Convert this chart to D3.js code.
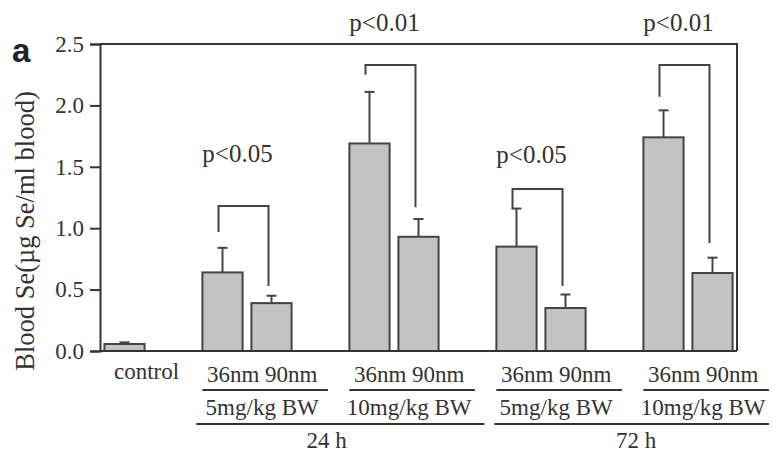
<!DOCTYPE html>
<html>
<head>
<meta charset="utf-8">
<script src="https://cdn.jsdelivr.net/npm/d3@7"></script>
<style>
  body { margin: 0; background: #fff; }
  text { font-family: "Liberation Serif", "Times New Roman", serif; fill: #333; }
</style>
</head>
<body>
<div id="chart"></div>
<script>
// slots along the x axis (gaps included so the pairs are spaced like the figure)
const slots = ["control", "gap1", "24h-5-36", "24h-5-90", "gap2", "24h-10-36", "24h-10-90",
    "gap3", "72h-5-36", "72h-5-90", "gap4", "72h-10-36", "72h-10-90"];

const barKeys = ["control", "24h-5-36", "24h-5-90", "24h-10-36", "24h-10-90",
    "72h-5-36", "72h-5-90", "72h-10-36", "72h-10-90"];
const means = [0.057, 0.64, 0.39, 1.69, 0.93, 0.85, 0.35, 1.74, 0.635];
const errTops = [0.07, 0.84, 0.45, 2.11, 1.075, 1.16, 0.46, 1.96, 0.76];

// significance brackets: [36nm bar, 90nm bar]
const bracketPairs = [["24h-5-36", "24h-5-90"], ["24h-10-36", "24h-10-90"],
    ["72h-5-36", "72h-5-90"], ["72h-10-36", "72h-10-90"]];
const bracketTop = [1.18, 2.33, 1.32, 2.33];
const bracketLeftEnd = [0.97, 2.25, 1.16, 2.07];
const bracketRightEnd = [0.53, 1.17, 0.53, 0.88];
const pLabels = ["p<0.05", "p<0.01", "p<0.05", "p<0.01"];
const pLabelY = [1.54, 2.61, 1.53, 2.61];

const doseGroups = ["24h-5-36", "24h-10-36", "72h-5-36", "72h-10-36"];
const doseLabels = ["5mg/kg BW", "10mg/kg BW", "5mg/kg BW", "10mg/kg BW"];
const timeLabels = ["24 h", "72 h"];
const yTicks = [0, 0.5, 1.0, 1.5, 2.0, 2.5];

const W = 772, H = 455;
const margin = { top: 44, right: 35, bottom: 104, left: 100 };
const width = W - margin.left - margin.right,
    height = H - margin.top - margin.bottom;
const ink = "#333";

let svg = d3.select("#chart")
    .append("svg")
    .attr("width", W)
    .attr("height", H);

let g = svg.append("g")
    .attr("transform", "translate(" + margin.left + "," + margin.top + ")");

const x = d3.scaleBand()
    .domain(slots)
    .range([0, width])
    .paddingInner(0.18)
    .paddingOuter(0.09);

const y = d3.scaleLinear()
    .domain([0, 2.5])
    .range([height, 0]);

const cx = k => x(k) + x.bandwidth() / 2;

// frame (top + right)
g.append("path")
    .attr("d", `M0,0H${width}V${height}`)
    .attr("fill", "none")
    .attr("stroke", ink)
    .attr("stroke-width", 2);

// y axis
const yAxis = g.append("g")
    .call(d3.axisLeft(y).tickValues(yTicks).tickFormat(d3.format(".1f")).tickSize(10).tickPadding(6));
yAxis.select(".domain").attr("stroke", ink).attr("stroke-width", 2);
yAxis.selectAll(".tick line").attr("stroke", ink).attr("stroke-width", 2);
yAxis.selectAll(".tick text")
    .attr("font-size", 23)
    .attr("font-family", "Liberation Serif, Times New Roman, serif")
    .attr("fill", "#444");

// bars
g.selectAll(".bar")
    .data(barKeys)
    .join("rect")
    .attr("class", "bar")
    .attr("x", d => x(d))
    .attr("width", x.bandwidth())
    .attr("y", (d, i) => y(means[i]))
    .attr("height", (d, i) => height - y(means[i]))
    .attr("fill", "#c3c3c3")
    .attr("stroke", "#444")
    .attr("stroke-width", 2);

// error bars
barKeys.forEach((k, i) => {
    g.append("line")
        .attr("x1", cx(k)).attr("x2", cx(k))
        .attr("y1", y(means[i])).attr("y2", y(errTops[i]))
        .attr("stroke", "#444").attr("stroke-width", 2);
    g.append("line")
        .attr("x1", cx(k) - 5).attr("x2", cx(k) + 5)
        .attr("y1", y(errTops[i])).attr("y2", y(errTops[i]))
        .attr("stroke", "#444").attr("stroke-width", 2);
});

// bottom baseline
g.append("line")
    .attr("x1", 0).attr("x2", width)
    .attr("y1", height).attr("y2", height)
    .attr("stroke", ink).attr("stroke-width", 2);

// brackets + p values
bracketPairs.forEach((p, i) => {
    const xl = cx(p[0]) - 4, xr = cx(p[1]) - 3;
    g.append("path")
        .attr("d", `M${xl},${y(bracketLeftEnd[i])}V${y(bracketTop[i])}H${xr}V${y(bracketRightEnd[i])}`)
        .attr("fill", "none")
        .attr("stroke", "#444")
        .attr("stroke-width", 2);
    g.append("text")
        .attr("x", (xl + xr) / 2 - 6)
        .attr("y", y(pLabelY[i]))
        .attr("text-anchor", "middle")
        .attr("font-size", 25)
        .text(pLabels[i]);
});

// x labels
g.append("text")
    .attr("x", cx("control") + 22)
    .attr("y", height + 28)
    .attr("text-anchor", "middle")
    .attr("font-size", 23)
    .text("control");

const lineLen = x.step() * 2.5 + 3;
doseGroups.forEach((k, i) => {
    const x0 = x(k), mid = x0 + lineLen / 2;
    g.append("text")
        .attr("x", mid - 3)
        .attr("y", height + 31)
        .attr("text-anchor", "middle")
        .attr("font-size", 23)
        .text("36nm 90nm");
    g.append("line")
        .attr("x1", x0).attr("x2", x0 + lineLen)
        .attr("y1", height + 39).attr("y2", height + 39)
        .attr("stroke", ink).attr("stroke-width", 2);
    g.append("text")
        .attr("x", mid - 3)
        .attr("y", height + 64)
        .attr("text-anchor", "middle")
        .attr("font-size", 23)
        .text(doseLabels[i]);
});

// time spans
const spans = [[x("24h-5-36") - 6, x("72h-5-36") - 12], [x("72h-5-36") - 2, x("72h-10-36") + lineLen]];
spans.forEach((s, i) => {
    g.append("line")
        .attr("x1", s[0]).attr("x2", s[1])
        .attr("y1", height + 73).attr("y2", height + 73)
        .attr("stroke", ink).attr("stroke-width", 2);
});
g.append("text")
    .attr("x", x("gap2") + x.bandwidth() / 2 + 6)
    .attr("y", height + 97)
    .attr("text-anchor", "middle")
    .attr("font-size", 23)
    .text(timeLabels[0]);
g.append("text")
    .attr("x", (cx("gap4") + cx("72h-10-36")) / 2 - 3)
    .attr("y", height + 97)
    .attr("text-anchor", "middle")
    .attr("font-size", 23)
    .text(timeLabels[1]);

// y label
svg.append("text")
    .attr("transform", "translate(34,231) rotate(-90)")
    .attr("text-anchor", "middle")
    .attr("font-size", 26.5)
    .text("Blood Se(\u00b5g Se/ml blood)");

// panel letter
svg.append("text")
    .attr("x", 12)
    .attr("y", 62)
    .attr("font-weight", "bold")
    .attr("font-size", 33)
    .style("fill", "#222")
    .style("font-family", "Liberation Sans, Arial, sans-serif")
    .text("a");
</script>
</body>
</html>
